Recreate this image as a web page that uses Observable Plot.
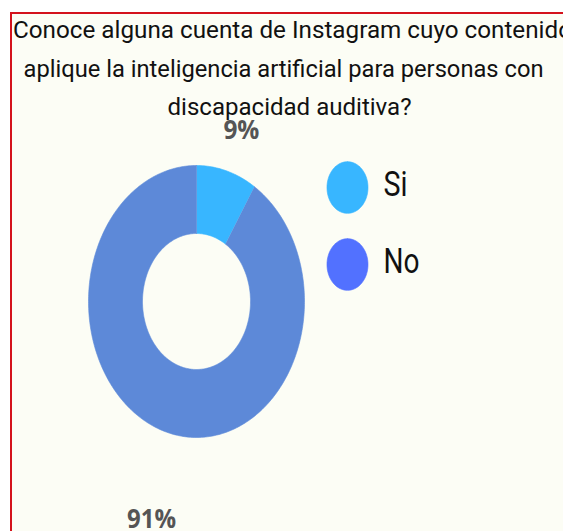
<!DOCTYPE html>
<html><head><meta charset="utf-8">
<script src="https://cdn.jsdelivr.net/npm/d3@7"></script>
<script src="https://cdn.jsdelivr.net/npm/@observablehq/plot@0.6"></script>
<style>
html,body{margin:0;padding:0;background:#fff;}
body{width:563px;height:531px;overflow:hidden;position:relative;}
#frame{position:absolute;left:10px;top:12px;width:620px;height:600px;border-left:2px solid #d4121c;border-top:2px solid #d4121c;background:#fcfdf5;box-sizing:border-box;}
#chart{position:absolute;left:0;top:0;}
</style></head><body>
<div id="frame"></div><div id="chart"></div>
<script>
// ---- data ----
const categories = ["Si", "No"];
const values = [9, 91];
const pctLabels = ["9%", "91%"];
const titleLines = [
  "Conoce alguna cuenta de Instagram cuyo contenido",
  "aplique la inteligencia artificial para personas con",
  "discapacidad auditiva?"
];
const sliceColors = ["#38b6ff", "#5d89d8"];
const legendColors = ["#38b6ff", "#5271ff"];

// ---- layout (pixels / units) ----
const W = 563, H = 531;
const CX = 196, CY = 301, UX = 108, UY = 136;   // centre and unit radii of the ring
const OUTER = 1, INNER = 0.5, LABEL_R = 1.49;
const LEG_X = 1.398, LEG_Y0 = 0.838, LEG_STEP = 0.566, LEG_R = 0.19, LEG_TX = 1.731;
const titleCenters = [292, 283, 289], titleBaselines = [37, 76, 114], titleLengths = [559, 520, 244];
const pctLengths = [36, 49], legLengths = [24, 36];

const pie = d3.pie().sort(null).value(d => d.value);
const slices = pie(categories.map((c, i) => ({category: c, value: values[i], label: pctLabels[i]})));

function ring(s) {
  const pts = [];
  const n = Math.max(8, Math.ceil((s.endAngle - s.startAngle) / (Math.PI / 180)));
  for (let k = 0; k <= n; k++) {
    const a = s.startAngle + (s.endAngle - s.startAngle) * k / n;
    pts.push({x: OUTER * Math.sin(a), y: OUTER * Math.cos(a)});
  }
  for (let k = n; k >= 0; k--) {
    const a = s.startAngle + (s.endAngle - s.startAngle) * k / n;
    pts.push({x: INNER * Math.sin(a), y: INNER * Math.cos(a)});
  }
  return pts;
}
function disc(cx, cy, r) {
  const pts = [];
  for (let k = 0; k <= 72; k++) {
    const a = 2 * Math.PI * k / 72;
    pts.push({x: cx + r * Math.sin(a), y: cy + r * Math.cos(a)});
  }
  return pts;
}
const mid = s => (s.startAngle + s.endAngle) / 2;

const marks = [];
slices.forEach((s, i) => {
  marks.push(Plot.line(ring(s), {x: "x", y: "y", fill: sliceColors[i], stroke: sliceColors[i], strokeWidth: 0.6}));
});
marks.push(Plot.text(slices, {
  x: s => LABEL_R * Math.sin(mid(s)), y: s => LABEL_R * Math.cos(mid(s)),
  text: s => s.data.label, fill: "#555555", fontSize: 27, fontWeight: 700,
  fontFamily: "Open Sans", lineAnchor: "middle", dy: 23
}));
categories.forEach((c, i) => {
  marks.push(Plot.line(disc(LEG_X, LEG_Y0 - i * LEG_STEP, LEG_R), {x: "x", y: "y", fill: legendColors[i], stroke: legendColors[i], strokeWidth: 0.6}));
});
marks.push(Plot.text(categories, {
  x: () => LEG_TX, y: (d, i) => LEG_Y0 - i * LEG_STEP, text: d => d,
  fill: "#111", fontSize: 35, fontFamily: "Roboto", textAnchor: "start", lineAnchor: "middle", dy: -3
}));
titleLines.forEach((t, i) => {
  marks.push(Plot.text([t], {
    frameAnchor: "top-left", dx: titleCenters[i], dy: titleBaselines[i], text: d => d,
    textAnchor: "middle", lineAnchor: "bottom", fontSize: 24, fontFamily: "Roboto",
    fill: "#111"
  }));
});

const chart = Plot.plot({
  width: W, height: H,
  marginTop: 0, marginRight: 0, marginBottom: 0, marginLeft: 0,
  x: {domain: [-CX / UX, (W - CX) / UX], axis: null},
  y: {domain: [-(H - CY) / UY, CY / UY], axis: null},
  style: {background: "transparent", overflow: "visible"},
  marks
});
document.getElementById("chart").appendChild(chart);

const lengthFor = new Map();
titleLines.forEach((t, i) => lengthFor.set(t, titleLengths[i]));
pctLabels.forEach((t, i) => lengthFor.set(t, pctLengths[i]));
categories.forEach((t, i) => lengthFor.set(t, legLengths[i]));
chart.querySelectorAll("text").forEach(el => {
  const L = lengthFor.get(el.textContent);
  if (L) {
    el.setAttribute("textLength", L);
    el.setAttribute("lengthAdjust", "spacingAndGlyphs");
  }
});
</script>
</body></html>
